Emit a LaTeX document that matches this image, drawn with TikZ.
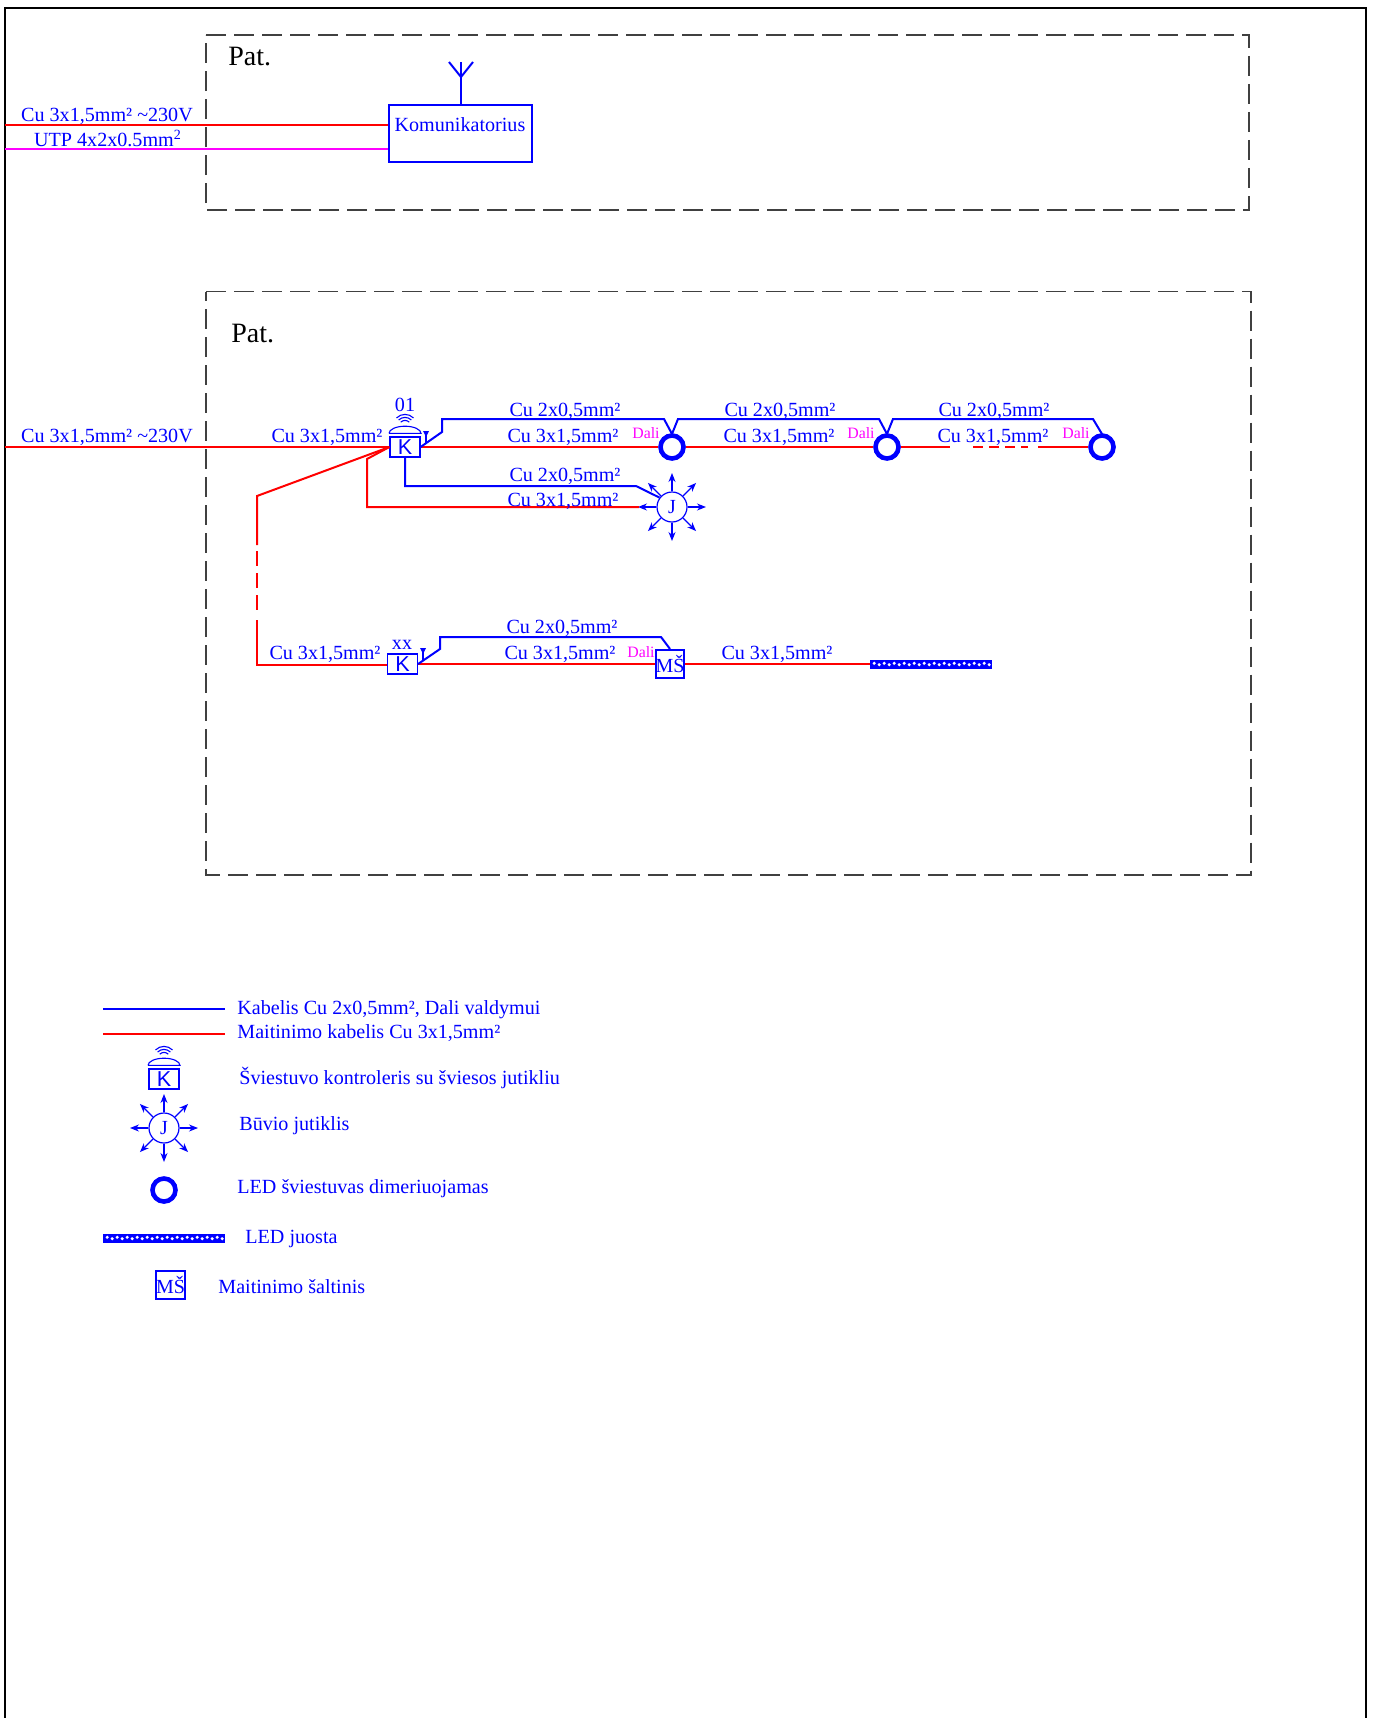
\documentclass[tikz,border=0pt]{standalone}
\usepackage{fontspec}
\setmainfont{Liberation Serif}
\newfontfamily\kfont{Liberation Sans}
\usetikzlibrary{arrows.meta,calc}
\definecolor{cblue}{RGB}{0,0,255}
\definecolor{cred}{RGB}{255,0,0}
\definecolor{cmag}{RGB}{255,0,255}
\tikzset{
  x=0.5pt,y=-0.5pt,
  lbl/.style={inner sep=0,text=cblue,anchor=base,font=\fontsize{10.05}{12}\selectfont},
  lleft/.style={lbl,anchor=base west},
  dali/.style={inner sep=0,text=cmag,anchor=base,font=\fontsize{7.9}{10}\selectfont},
  pat/.style={inner sep=0,text=black,anchor=base west,font=\fontsize{14}{16}\selectfont},
  border/.style={draw=black,line width=1.4pt},
  room/.style={draw=black!75,line width=0.7pt,dash pattern=on 10pt off 4pt},
  redw/.style={draw=cred,line width=1pt},
  magw/.style={draw=cmag,line width=1pt},
  bluew/.style={draw=cblue,line width=1pt},
  thinb/.style={draw=cblue,line width=0.55pt},
  box/.style={draw=cblue,line width=1pt,inner sep=0,text=cblue},
  kbox/.style={draw=cblue,line width=0.6pt,inner sep=0,text=cblue,minimum width=15pt,minimum height=10pt,font=\kfont\fontsize{10.8}{12}\selectfont},
  jcirc/.style={draw=cblue,line width=0.6pt,circle,inner sep=0,minimum size=15pt,text=cblue,font=\fontsize{10}{11}\selectfont},
  lamp/.style={draw=cblue,line width=2.3pt,circle,inner sep=0,minimum size=11.5pt},
  msbox/.style={draw=cblue,line width=1pt,inner sep=0,minimum width=14pt,minimum height=14pt,text=cblue,font=\fontsize{10}{12}\selectfont},
  stripbox/.style={fill=cblue,inner sep=0,minimum height=4.5pt},
  ray/.style={draw=cblue,line width=0.55pt,-{Stealth[length=4.5pt,width=3.5pt]}},
}
\newcommand{\KSym}[3]{%
  \node[kbox] (#1) at (#2,#3) {K};
  \draw[thinb] ([yshift=1.5pt,xshift=-8pt]#1.north) -- ++(16pt,0)
     arc[start angle=0,end angle=180,x radius=8pt,y radius=3.6pt];
  \foreach \r in {6pt,4.5pt,3pt}{%
    \draw[thinb] ([yshift=5pt]#1.north) ++(135:\r) arc[start angle=135,end angle=45,radius=\r];
  }}
\newcommand{\SmallK}[3]{%
  \node[kbox] (#1) at (#2,#3) {K};}
\newcommand{\SmallAnt}[2]{%
  \draw[thinb] (#1,#2) -- ++(0,12);
  \fill[cblue] (#1,#2+6) -- ++(-3,-6) -- ++(6,0) -- cycle;}
\newcommand{\JSym}[3]{%
  \node[jcirc] (#1) at (#2,#3) {J};
  \foreach \a in {0,45,...,315}{\draw[ray] (#1.\a) -- ++(\a:9.2pt);}}
\newcommand{\StripSym}[4]{%
  \node[stripbox,minimum width=#4*0.5pt] (#1) at (#2,#3) {};
  \foreach \i in {0,...,23}{%
    \pgfmathsetmacro{\dy}{mod(\i,2)==0 ? 0.35 : -0.35}
    \fill[white] ([xshift=\i*2.5pt+2.3pt,yshift=\dy pt]#1.west) circle[radius=0.85pt];}}
\begin{document}
\begin{tikzpicture}
\useasboundingbox (0,0) rectangle (1374,1718);
\fill[white] (0,0) rectangle (1374,1718);
\draw[border] (5,1718) -- (5,8) -- (1366,8) -- (1366,1718);
% rooms
\node[pat] (pat1) at (228,66) {Pat.};
\node[pat] (pat2) at (231,342) {Pat.};
\draw[room] (206,35) -- (1249,35) -- (1249,210) -- (206,210) -- cycle;
\draw[room] (206,291.5) -- (1251,291.5) -- (1251,875) -- (206,875) -- cycle;
% communicator
\node[box,minimum width=71.5pt,minimum height=28.5pt] (kom) at (460.5,133.5) {};
\node[lbl] (komt) at (460,132) {Komunikatorius};
\coordinate (feedA) at (5,125);
\coordinate (feedB) at (5,149);
\draw[redw] (feedA) -- (feedA -| kom.west);
\draw[magw] (feedB) -- (feedB -| kom.west);
\coordinate (antJ) at (461,77);
\draw[bluew] (kom.north -| antJ) -- (antJ) -- (461,62);
\draw[bluew] (449,62) -- (antJ) -- (473,62);
\node[lbl] (l1) at (107,121) {Cu 3x1,5mm² \textasciitilde 230V};
\node[lbl] (l2) at (108,147) {UTP 4x2x0.5mm\textsuperscript{2}};
% main row
\KSym{k1}{405}{447}
\node[lamp] (c1) at (672,447) {};
\node[lamp] (c2) at (887,447) {};
\node[lamp] (c3) at (1102,447) {};
\JSym{j1}{672}{507}
\SmallAnt{426}{431}
\coordinate (feedC) at (5,447);
\draw[redw] (feedC) -- (k1.west);
\draw[redw] (k1.east) -- (c1.west);
\draw[redw] (c1.east) -- (c2.west);
\draw[redw] (c2.east) -- (950,447);
\draw[redw,dash pattern=on 5pt off 3pt] (973,447) -- (1028,447);
\draw[redw] (1038,447) -- (c3.west);
\draw[bluew] (k1.east) -- (442,432) -- (442,419) -- (664,419) -- (672,434) -- (678,419) -- (879,419) -- (887,434) -- (893,419) -- (1093,419) -- (1102,434);
\draw[bluew] (k1.south) -- (405,486) -- (636,486) -- (j1.143);
\coordinate (jtip) at (639,507);
\draw[redw] (k1.west) -- (367,459) -- (367,507) -- (jtip);
% riser
\coordinate (riserA) at (257,496);
\coordinate (riserB) at (257,665);
\SmallK{k2}{402.5}{664}
\SmallAnt{423}{648}
\draw[redw] (k1.west) -- (riserA) -- (257,545);
\draw[redw,dash pattern=on 7.5pt off 3.5pt] (257,551) -- (257,614);
\draw[redw] (257,620) -- (riserB) -- (riserB -| k2.west);
\node[msbox] (ms1) at (670,664) {MŠ};
\StripSym{s1}{931}{664}{122}
\draw[redw] (k2.east) -- (ms1.west);
\draw[redw] (ms1.east) -- (s1.west);
\draw[bluew] (k2.east) -- (440,649) -- (440,637) -- (661,637) -- (ms1.north);
% labels
\node[lbl] (t1) at (107,442) {Cu 3x1,5mm² \textasciitilde 230V};
\node[lbl] (t2) at (327,442) {Cu 3x1,5mm²};
\node[lbl] (t3) at (405,411) {01};
\node[lbl] (t4) at (565,416) {Cu 2x0,5mm²};
\node[lbl] (t5) at (563,442) {Cu 3x1,5mm²};
\node[lbl] (t6) at (780,416) {Cu 2x0,5mm²};
\node[lbl] (t7) at (779,442) {Cu 3x1,5mm²};
\node[lbl] (t8) at (994,416) {Cu 2x0,5mm²};
\node[lbl] (t9) at (993,442) {Cu 3x1,5mm²};
\node[lbl] (t10) at (565,481) {Cu 2x0,5mm²};
\node[lbl] (t11) at (563,506) {Cu 3x1,5mm²};
\node[dali] (d1) at (646,438) {Dali};
\node[dali] (d2) at (861,438) {Dali};
\node[dali] (d3) at (1076,438) {Dali};
\node[dali] (d4) at (641,657) {Dali};
\node[lbl] (t12) at (325,659) {Cu 3x1,5mm²};
\node[lbl] (t13) at (402,649) {xx};
\node[lbl] (t14) at (562,633) {Cu 2x0,5mm²};
\node[lbl] (t15) at (560,659) {Cu 3x1,5mm²};
\node[lbl] (t16) at (777,659) {Cu 3x1,5mm²};
% legend
\coordinate (la) at (103,1009);
\coordinate (lb) at (225,1009);
\coordinate (lc) at (103,1034);
\coordinate (ld) at (225,1034);
\draw[bluew] (la) -- (lb);
\draw[redw] (lc) -- (ld);
\node[lleft] (e1) at (237,1014) {Kabelis Cu 2x0,5mm², Dali valdymui};
\node[lleft] (e2) at (237,1038) {Maitinimo kabelis Cu 3x1,5mm²};
\KSym{k3}{164}{1079}
\node[lleft] (e3) at (239,1084) {Šviestuvo kontroleris su šviesos jutikliu};
\JSym{j2}{164}{1128}
\node[lleft] (e4) at (239,1130) {Būvio jutiklis};
\node[lamp] (c4) at (164,1190) {};
\node[lleft] (e5) at (237,1193) {LED šviestuvas dimeriuojamas};
\StripSym{s2}{164}{1238}{122}
\node[lleft] (e6) at (245,1243) {LED juosta};
\node[msbox] (ms2) at (170.5,1285) {MŠ};
\node[lleft] (e7) at (218,1293) {Maitinimo šaltinis};
\end{tikzpicture}
\end{document}
